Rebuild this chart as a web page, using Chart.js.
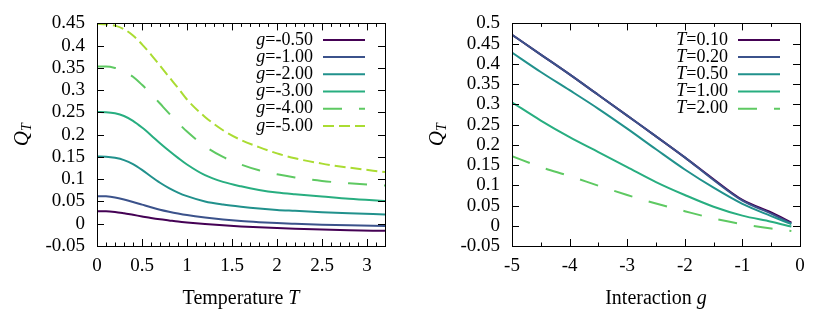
<!DOCTYPE html>
<html><head><meta charset="utf-8">
<script src="https://cdn.jsdelivr.net/npm/chart.js@4/dist/chart.umd.min.js"></script>
<style>
html,body{margin:0;padding:0;background:#fff;}
#wrap{width:830px;height:312px;display:flex;}
canvas{display:block;}
</style></head><body>
<div id="wrap"><canvas id="c1" width="415" height="312"></canvas><canvas id="c2" width="415" height="312"></canvas></div>
<script>
// ---------- Left panel data: Q_T vs temperature T ----------
const temperatures = [0, 0.1, 0.2, 0.3, 0.4, 0.5, 0.6, 0.7, 0.8, 0.9, 1.0, 1.2, 1.4, 1.6, 1.8, 2.0, 2.2, 2.5, 2.8, 3.2];
const gLabels = ['-0.50', '-1.00', '-2.00', '-3.00', '-4.00', '-5.00'];
const qT_gm050 = [0.028, 0.028, 0.0265, 0.0235, 0.020, 0.0165, 0.013, 0.010, 0.0075, 0.005, 0.003, -0.0005, -0.0035, -0.006, -0.008, -0.0095, -0.011, -0.013, -0.0145, -0.016];
const qT_gm100 = [0.062, 0.0615, 0.059, 0.0545, 0.049, 0.043, 0.037, 0.0315, 0.027, 0.023, 0.0195, 0.014, 0.0095, 0.006, 0.0035, 0.0015, 0.0, -0.002, -0.0035, -0.005];
const qT_gm200 = [0.151, 0.1505, 0.148, 0.143, 0.134, 0.121, 0.106, 0.092, 0.080, 0.070, 0.062, 0.050, 0.043, 0.038, 0.034, 0.031, 0.029, 0.026, 0.0235, 0.021];
const qT_gm300 = [0.251, 0.2505, 0.248, 0.242, 0.231, 0.216, 0.199, 0.181, 0.164, 0.148, 0.133, 0.109, 0.094, 0.084, 0.076, 0.070, 0.066, 0.061, 0.056, 0.051];
const qT_gm400 = [0.353, 0.353, 0.350, 0.343, 0.330, 0.312, 0.292, 0.270, 0.248, 0.227, 0.207, 0.174, 0.150, 0.133, 0.120, 0.111, 0.104, 0.096, 0.091, 0.086];
const qT_gm500 = [0.449, 0.448, 0.445, 0.437, 0.423, 0.403, 0.380, 0.355, 0.330, 0.305, 0.279, 0.240, 0.210, 0.188, 0.172, 0.158, 0.147, 0.135, 0.126, 0.116];
const leftXTicks = [0, 0.5, 1, 1.5, 2, 2.5, 3];
const leftXMinor = [0.1,0.2,0.3,0.4,0.6,0.7,0.8,0.9,1.1,1.2,1.3,1.4,1.6,1.7,1.8,1.9,2.1,2.2,2.3,2.4,2.6,2.7,2.8,2.9,3.1];
const leftYTicks = [-0.05, 0, 0.05, 0.1, 0.15, 0.2, 0.25, 0.3, 0.35, 0.4, 0.45];

// ---------- Right panel data: Q_T vs interaction g ----------
const interactions = [-5, -4.5, -4, -3.5, -3, -2.5, -2, -1.5, -1, -0.5, -0.15];
const tLabels = ['0.10', '0.20', '0.50', '1.00', '2.00'];
const qG_T010 = [0.472, 0.423, 0.374, 0.323, 0.272, 0.221, 0.169, 0.115, 0.064, 0.033, 0.008];
const qG_T020 = [0.472, 0.423, 0.374, 0.323, 0.272, 0.221, 0.169, 0.113, 0.062, 0.030, 0.006];
const qG_T050 = [0.428, 0.380, 0.335, 0.289, 0.240, 0.189, 0.139, 0.094, 0.054, 0.024, 0.004];
const qG_T100 = [0.305, 0.260, 0.219, 0.182, 0.145, 0.108, 0.076, 0.047, 0.025, 0.010, -0.002];
const qG_T200 = [0.172, 0.145, 0.123, 0.099, 0.076, 0.055, 0.036, 0.018, 0.004, -0.007, -0.013];
const rightXTicks = [-5, -4, -3, -2, -1, 0];
const rightXMinor = [-4.5, -3.5, -2.5, -1.5, -0.5];
const rightYTicks = [-0.05, 0, 0.05, 0.1, 0.15, 0.2, 0.25, 0.3, 0.35, 0.4, 0.45, 0.5];

const COLORS6 = ['#440154', '#3b528b', '#21918c', '#28ae80', '#5ec962', '#aadc32'];
const DASHES6 = [[], [], [], [], [19, 17], [11, 5]];
const COLORS5 = ['#440154', '#3b528b', '#21918c', '#28ae80', '#5ec962'];
const DASHES5 = [[], [], [], [], [19, 17]];

const FONT = "'Liberation Serif', 'Times New Roman', serif";
Chart.defaults.font.family = FONT;
Chart.defaults.font.size = 19;
Chart.defaults.color = '#000';
const fmt = v => String(Number(v.toFixed(2)));

function panelPlugin(o) {
  return {
    id: 'panel',
    afterDraw(chart) {
      const ctx = chart.ctx, ca = chart.chartArea;
      const xs = chart.scales.x, ys = chart.scales.y;
      ctx.save();
      ctx.strokeStyle = '#000';
      ctx.lineWidth = 1;
      ctx.setLineDash([]);
      ctx.strokeRect(Math.round(ca.left) + 0.5, Math.round(ca.top) + 0.5, Math.round(ca.right - ca.left), Math.round(ca.bottom - ca.top));
      const L = 7, Lm = 3.5;
      ctx.beginPath();
      o.yTicks.forEach(v => {
        const y = Math.round(ys.getPixelForValue(v)) + 0.5;
        ctx.moveTo(ca.left, y); ctx.lineTo(ca.left + L, y);
        ctx.moveTo(ca.right, y); ctx.lineTo(ca.right - L, y);
      });
      o.xTicks.forEach(v => {
        const x = Math.round(xs.getPixelForValue(v)) + 0.5;
        ctx.moveTo(x, ca.bottom); ctx.lineTo(x, ca.bottom - L);
        ctx.moveTo(x, ca.top); ctx.lineTo(x, ca.top + L);
      });
      o.xMinor.forEach(v => {
        const x = Math.round(xs.getPixelForValue(v)) + 0.5;
        ctx.moveTo(x, ca.bottom); ctx.lineTo(x, ca.bottom - Lm);
        ctx.moveTo(x, ca.top); ctx.lineTo(x, ca.top + Lm);
      });
      ctx.stroke();

      // legend
      const R = ca.right - 72;
      ctx.textBaseline = 'middle';
      chart.data.datasets.forEach((ds, i) => {
        const y = ca.top + 16.5 + i * 17.2;
        ctx.font = '18px ' + FONT;
        ctx.fillStyle = '#000';
        ctx.textAlign = 'right';
        const rom = '=' + o.legendVals[i];
        ctx.fillText(rom, R, y);
        const w = ctx.measureText(rom).width;
        ctx.font = 'italic 18px ' + FONT;
        ctx.fillText(o.legendVar, R - w, y);
        ctx.beginPath();
        ctx.strokeStyle = ds.borderColor;
        ctx.lineWidth = 2;
        ctx.setLineDash(ds.borderDash || []);
        ctx.moveTo(ca.right - 62, y); ctx.lineTo(ca.right - 20, y);
        ctx.stroke();
        ctx.setLineDash([]);
      });

      // x axis title
      ctx.fillStyle = '#000';
      ctx.textBaseline = 'alphabetic';
      ctx.textAlign = 'left';
      ctx.font = '20px ' + FONT;
      const t1 = o.xTitle + ' ';
      const w1 = ctx.measureText(t1).width;
      ctx.font = 'italic 20px ' + FONT;
      const w2 = ctx.measureText(o.xVar).width;
      const cx = (ca.left + ca.right) / 2;
      const x0 = cx - (w1 + w2) / 2;
      ctx.font = '20px ' + FONT;
      ctx.fillText(t1, x0, 304);
      ctx.font = 'italic 20px ' + FONT;
      ctx.fillText(o.xVar, x0 + w1, 304);

      // y axis title Q_T
      ctx.save();
      ctx.translate(28, (ca.top + ca.bottom) / 2);
      ctx.rotate(-Math.PI / 2);
      ctx.font = 'italic 21px ' + FONT;
      const wq = ctx.measureText('Q').width;
      ctx.font = 'italic 14px ' + FONT;
      const wt = ctx.measureText('T').width;
      const sx = -(wq + wt) / 2;
      ctx.font = 'italic 21px ' + FONT;
      ctx.fillText('Q', sx, 0);
      ctx.font = 'italic 14px ' + FONT;
      ctx.fillText('T', sx + wq, 3);
      ctx.restore();
      ctx.restore();
    }
  };
}

function makeChart(id, xs, series, colors, dashes, o) {
  const datasets = series.map((vals, i) => ({
    data: xs.map((x, k) => ({ x: x, y: vals[k] })),
    borderColor: colors[i],
    borderWidth: 2,
    borderDash: dashes[i],
    pointRadius: 0,
    showLine: true,
    cubicInterpolationMode: 'monotone',
    fill: false,
    order: -i
  }));
  const tickFont = { family: FONT, size: 19, style: 'normal', weight: 'normal' };
  return new Chart(document.getElementById(id), {
    type: 'scatter',
    data: { datasets },
    options: {
      responsive: false,
      animation: false,
      events: [],
      layout: { padding: { top: 22, right: 30, left: 0, bottom: 0 } },
      plugins: { legend: { display: false }, tooltip: { enabled: false } },
      scales: {
        x: {
          type: 'linear', min: o.xMin, max: o.xMax,
          grid: { display: false, drawTicks: false },
          border: { display: false },
          afterBuildTicks: s => { s.ticks = o.xTicks.map(v => ({ value: v })); },
          afterFit: s => { s.height = 66; },
          ticks: { color: '#000', font: tickFont, padding: 9, maxRotation: 0, autoSkip: false, callback: v => fmt(v) }
        },
        y: {
          type: 'linear', min: o.yMin, max: o.yMax,
          grid: { display: false, drawTicks: false },
          border: { display: false },
          afterBuildTicks: s => { s.ticks = o.yTicks.map(v => ({ value: v })); },
          afterFit: s => { s.width = 97; },
          ticks: { color: '#000', font: tickFont, padding: 12, autoSkip: false, callback: v => fmt(v) }
        }
      }
    },
    plugins: [panelPlugin(o)]
  });
}

makeChart('c1', temperatures,
  [qT_gm050, qT_gm100, qT_gm200, qT_gm300, qT_gm400, qT_gm500], COLORS6, DASHES6,
  { xMin: 0, xMax: 3.2, yMin: -0.05, yMax: 0.45, xTicks: leftXTicks, xMinor: leftXMinor, yTicks: leftYTicks,
    legendVar: 'g', legendVals: gLabels, xTitle: 'Temperature', xVar: 'T' });

makeChart('c2', interactions,
  [qG_T010, qG_T020, qG_T050, qG_T100, qG_T200], COLORS5, DASHES5,
  { xMin: -5, xMax: 0, yMin: -0.05, yMax: 0.5, xTicks: rightXTicks, xMinor: rightXMinor, yTicks: rightYTicks,
    legendVar: 'T', legendVals: tLabels, xTitle: 'Interaction', xVar: 'g' });
</script>
</body></html>
